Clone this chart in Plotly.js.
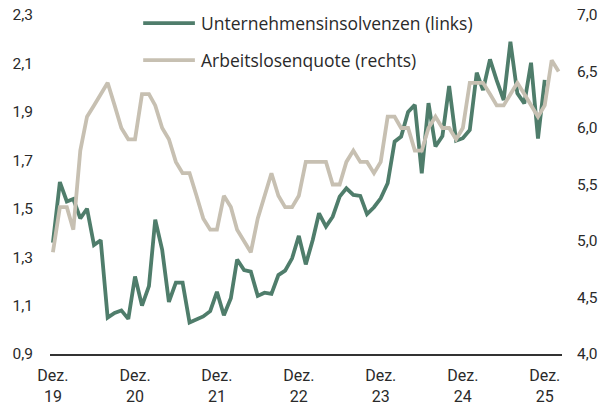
<!DOCTYPE html>
<html>
<head>
<meta charset="utf-8">
<script src="https://cdn.plot.ly/plotly-3.0.1.min.js"></script>
<style>html,body{margin:0;padding:0;background:#fff;}#chart{width:606px;height:409px;}</style>
</head>
<body>
<div id="chart"></div>
<script>
// Months Dec 2019 .. Feb 2026
const months = [];
for (let y = 2019; y <= 2026; y++) {
  for (let m = 1; m <= 12; m++) {
    if (y === 2019 && m < 12) continue;
    if (y === 2026 && m > 2) continue;
    months.push(y + '-' + String(m).padStart(2, '0') + '-01');
  }
}

// Unternehmensinsolvenzen (links), Dec 2019 .. Dec 2025
const insolvenzen = [
  1.36,
  1.61, 1.53, 1.54, 1.46, 1.50, 1.35, 1.37, 1.05, 1.07, 1.08, 1.045, 1.22,
  1.10, 1.18, 1.455, 1.33, 1.115, 1.195, 1.195, 1.03, 1.043, 1.055, 1.077, 1.157,
  1.06, 1.13, 1.29, 1.247, 1.24, 1.14, 1.153, 1.148, 1.226, 1.244, 1.295, 1.388,
  1.27, 1.371, 1.481, 1.426, 1.467, 1.55, 1.584, 1.557, 1.553, 1.478, 1.506, 1.543,
  1.605, 1.777, 1.798, 1.90, 1.929, 1.646, 1.936, 1.757, 1.80, 2.007, 1.781, 1.791,
  1.825, 2.062, 1.99, 2.117, 2.03, 1.949, 2.19, 1.977, 1.935, 2.103, 1.79, 2.032
];

// Arbeitslosenquote (rechts), Dec 2019 .. Feb 2026
const quote = [
  4.9,
  5.3, 5.3, 5.1, 5.8, 6.1, 6.2, 6.3, 6.4, 6.2, 6.0, 5.9, 5.9,
  6.3, 6.3, 6.2, 6.0, 5.9, 5.7, 5.6, 5.6, 5.4, 5.2, 5.1, 5.1,
  5.4, 5.3, 5.1, 5.0, 4.9, 5.2, 5.4, 5.6, 5.4, 5.3, 5.3, 5.4,
  5.7, 5.7, 5.7, 5.7, 5.5, 5.5, 5.7, 5.8, 5.7, 5.7, 5.6, 5.7,
  6.1, 6.1, 6.0, 6.0, 5.8, 5.8, 6.0, 6.1, 6.0, 6.0, 5.9, 6.0,
  6.4, 6.4, 6.4, 6.3, 6.2, 6.2, 6.3, 6.4, 6.3, 6.2, 6.1, 6.2,
  6.6, 6.5
];

const tickDates = ['2019-12-01','2020-12-01','2021-12-01','2022-12-01','2023-12-01','2024-12-01','2025-12-01'];
const tickLabels = ['Dez.<br>19','Dez.<br>20','Dez.<br>21','Dez.<br>22','Dez.<br>23','Dez.<br>24','Dez.<br>25'];
const seriesNames = ['Unternehmensinsolvenzen (links)', 'Arbeitslosenquote (rechts)'];

const green = '#4f7d6b';
const beige = '#c7c0b2';
const txt = '#2a2a2a';
const FONT = 'Roboto, "DejaVu Sans", sans-serif';
const LFONT = '"Open Sans", Roboto, sans-serif';

const traces = [
  {
    x: months.slice(0, quote.length), y: quote,
    type: 'scatter', mode: 'lines', name: seriesNames[1],
    line: {color: beige, width: 3.8}, yaxis: 'y2', showlegend: false
  },
  {
    x: months.slice(0, insolvenzen.length), y: insolvenzen,
    type: 'scatter', mode: 'lines', name: seriesNames[0],
    line: {color: green, width: 3.8}, yaxis: 'y', showlegend: false
  }
];

const layout = {
  width: 606, height: 409,
  margin: {l: 50, r: 44, t: 15, b: 55},
  paper_bgcolor: '#fff', plot_bgcolor: '#fff',
  separators: ',.',
  font: {family: FONT, size: 15, color: txt},
  showlegend: false,
  xaxis: {
    type: 'date',
    range: ['2019-11-18', '2026-02-16'],
    tickmode: 'array', tickvals: tickDates, ticktext: tickLabels,
    showgrid: false, zeroline: false,
    showline: true, linecolor: '#333', linewidth: 2,
    ticks: '', ticklabelstandoff: 6,
    tickfont: {family: FONT, size: 16, color: txt}
  },
  yaxis: {
    range: [0.9, 2.3], tickmode: 'linear', tick0: 0.9, dtick: 0.2,
    tickformat: '.1f', showgrid: false, zeroline: false, showline: false,
    ticks: '', ticklabelstandoff: 16,
    tickfont: {family: FONT, size: 15.5, color: txt}
  },
  yaxis2: {
    overlaying: 'y', side: 'right',
    range: [4.0, 7.0], tickmode: 'linear', tick0: 4.0, dtick: 0.5,
    tickformat: '.1f', showgrid: false, zeroline: false, showline: false,
    ticks: '', ticklabelstandoff: 14,
    tickfont: {family: FONT, size: 15.5, color: txt}
  },
  shapes: [
    {type: 'line', xref: 'paper', yref: 'paper', x0: 0.182, x1: 0.283, y0: 0.976, y1: 0.976,
     line: {color: green, width: 3.8}},
    {type: 'line', xref: 'paper', yref: 'paper', x0: 0.182, x1: 0.283, y0: 0.867, y1: 0.867,
     line: {color: beige, width: 3.8}}
  ],
  annotations: [
    {xref: 'paper', yref: 'paper', x: 0.291, y: 0.976, xanchor: 'left', yanchor: 'middle',
     text: seriesNames[0], showarrow: false, font: {family: LFONT, size: 17.5, color: txt}},
    {xref: 'paper', yref: 'paper', x: 0.291, y: 0.867, xanchor: 'left', yanchor: 'middle',
     text: seriesNames[1], showarrow: false, font: {family: LFONT, size: 17.5, color: txt}}
  ]
};

Plotly.newPlot('chart', traces, layout, {staticPlot: true, displayModeBar: false});
</script>
</body>
</html>
